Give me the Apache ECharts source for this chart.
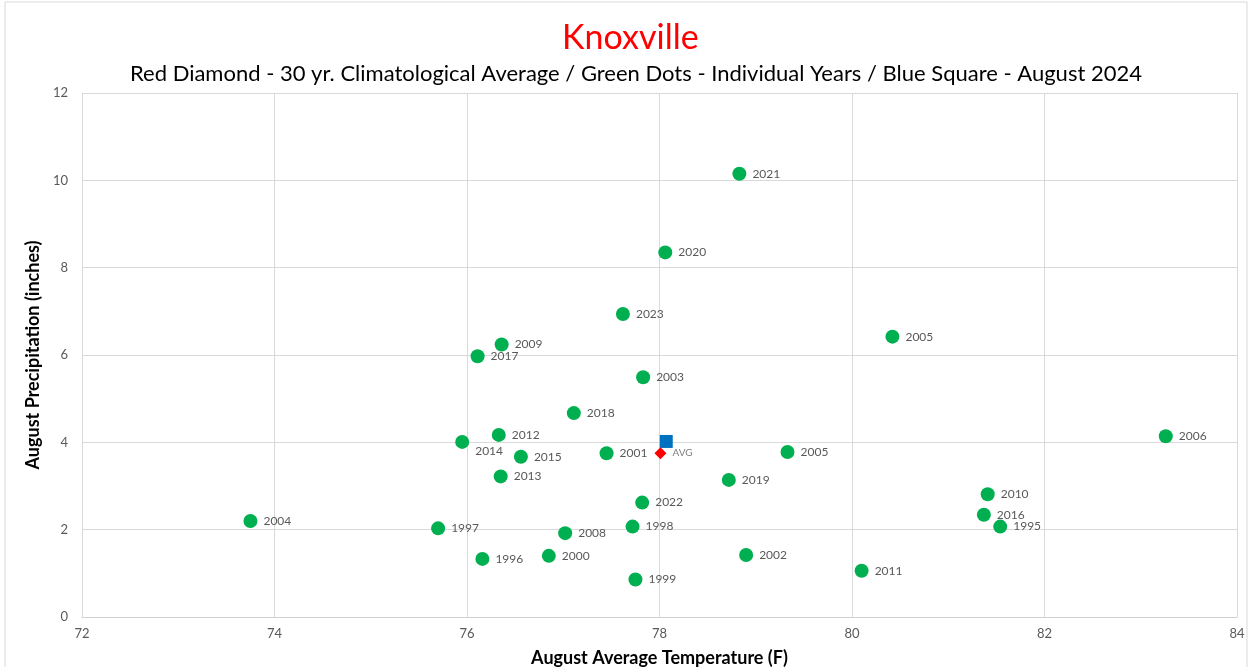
<!DOCTYPE html>
<html>
<head>
<meta charset="utf-8">
<title>Knoxville August</title>
<script src="https://cdn.jsdelivr.net/npm/echarts@6/dist/echarts.min.js"></script>
<style>
  html, body { margin: 0; padding: 0; background: #fff; }
  #main { width: 1251px; height: 667px; }
</style>
</head>
<body>
<div id="main"></div>
<script>
// individual years (green dots)
const years = ['2021', '2020', '2023', '2009', '2017', '2003', '2018', '2012', '2014', '2015',
  '2001', '2013', '2022', '1997', '2008', '1998', '1996', '2000', '1999', '2004',
  '2005', '2005', '2019', '2002', '2011', '2006', '2010', '2016', '1995'];
const temps = [78.83, 78.06, 77.62, 76.36, 76.11, 77.83, 77.11, 76.33, 75.95, 76.56,
  77.45, 76.35, 77.82, 75.70, 77.02, 77.72, 76.16, 76.85, 77.75, 73.75,
  80.42, 79.33, 78.72, 78.90, 80.10, 83.26, 81.41, 81.37, 81.54];
const precips = [10.15, 8.35, 6.94, 6.24, 5.97, 5.49, 4.67, 4.17, 4.01, 3.67,
  3.75, 3.22, 2.62, 2.03, 1.92, 2.07, 1.33, 1.40, 0.86, 2.20,
  6.42, 3.78, 3.14, 1.42, 1.06, 4.14, 2.81, 2.34, 2.07];

// 30 yr average (red diamond) and August 2024 (blue square)
const avgPoint = [78.01, 3.75];
const aug2024 = [78.07, 4.02];

const xTicks = [72, 74, 76, 78, 80, 82, 84];
const yTicks = [0, 2, 4, 6, 8, 10, 12];

const font = 'Lato, "Open Sans", sans-serif';

const yearData = years.map((y, i) => {
  const item = { value: [temps[i], precips[i], y] };
  if (y === '2014') item.label = { offset: [0, 9] };
  return item;
});

const chart = echarts.init(document.getElementById('main'));
chart.setOption({
  backgroundColor: '#fff',
  animation: false,
  textStyle: { fontFamily: font },
  title: [
    {
      text: 'Knoxville',
      left: 557,
      top: 16,
      textStyle: { color: '#FF0000', fontSize: 34, fontWeight: 'normal', fontFamily: font }
    },
    {
      text: 'Red Diamond - 30 yr. Climatological Average / Green Dots - Individual Years / Blue Square - August 2024',
      left: 125,
      top: 58,
      textStyle: { color: '#000', fontSize: 22, fontWeight: 'normal', fontFamily: font }
    }
  ],
  graphic: [{
    type: 'rect',
    shape: { x: 5, y: 2, width: 1242, height: 680 },
    style: { fill: 'none', stroke: '#d9d9d9', lineWidth: 1 },
    silent: true
  }],
  grid: { left: 82, right: 14, top: 93, bottom: 50, outerBoundsMode: 'none' },
  xAxis: {
    type: 'value',
    min: xTicks[0],
    max: xTicks[xTicks.length - 1],
    interval: 2,
    name: 'August Average Temperature (F)',
    nameLocation: 'middle',
    nameGap: 32,
    nameTextStyle: { color: '#000', fontSize: 18, fontWeight: 'bold', fontFamily: font },
    axisLine: { show: true, lineStyle: { color: '#d0d0d0' } },
    axisTick: { show: false },
    axisLabel: { color: '#595959', fontSize: 13, margin: 10 },
    splitLine: { show: true, lineStyle: { color: '#d9d9d9' } }
  },
  yAxis: {
    type: 'value',
    min: yTicks[0],
    max: yTicks[yTicks.length - 1],
    interval: 2,
    name: 'August Precipitation (inches)',
    nameLocation: 'middle',
    nameGap: 33,
    nameTextStyle: { color: '#000', fontSize: 18, fontWeight: 'bold', fontFamily: font },
    axisLine: { show: false },
    axisTick: { show: false },
    axisLabel: { color: '#595959', fontSize: 13, margin: 14 },
    splitLine: { show: true, lineStyle: { color: '#d9d9d9' } }
  },
  series: [
    {
      name: 'Individual Years',
      type: 'scatter',
      symbol: 'circle',
      symbolSize: 14,
      itemStyle: { color: '#00B050', opacity: 1 },
      label: {
        show: true,
        position: 'right',
        distance: 6,
        formatter: p => p.value[2],
        color: '#595959',
        fontSize: 12
      },
      data: yearData,
      z: 3
    },
    {
      name: 'August 2024',
      type: 'scatter',
      symbol: 'rect',
      symbolSize: 13,
      itemStyle: { color: '#0070C0', opacity: 1 },
      data: [aug2024],
      z: 4
    },
    {
      name: '30 yr Average',
      type: 'scatter',
      symbol: 'diamond',
      symbolSize: [12, 12],
      itemStyle: { color: '#FF0000', opacity: 1 },
      label: {
        show: true,
        position: 'right',
        distance: 6,
        formatter: 'AVG',
        color: '#7f7f7f',
        fontSize: 10
      },
      data: [avgPoint],
      z: 5
    }
  ]
});
</script>
</body>
</html>
